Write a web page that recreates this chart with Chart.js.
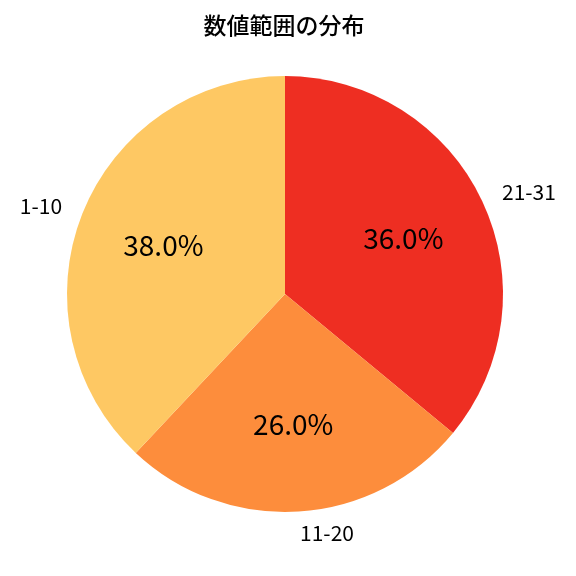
<!DOCTYPE html>
<html><head><meta charset="utf-8">
<script src="https://cdn.jsdelivr.net/npm/chart.js@4"></script>
<style>html,body{margin:0;padding:0;background:#fff}#w{width:576px;height:576px}</style>
</head><body><div id="w"><canvas id="c"></canvas></div>
<script>
const categories = ['21-31', '11-20', '1-10'];
const values = [36.0, 26.0, 38.0];
const colors = ['#EE2E22', '#FD8D3C', '#FEC863'];
const titleText = '数値範囲の分布';
const FONT = '"Noto Sans CJK JP", "Noto Sans", sans-serif';

const labelPlugin = {
  id: 'labels',
  afterDraw(chart) {
    const ctx = chart.ctx;
    ctx.save();
    ctx.fillStyle = '#000';
    ctx.textBaseline = 'middle';
    ctx.textAlign = 'center';
    ctx.font = '500 23px ' + FONT;
    ctx.fillText(titleText, 284, 25);
    const meta = chart.getDatasetMeta(0);
    meta.data.forEach((arc, i) => {
      const mid = (arc.startAngle + arc.endAngle) / 2;
      const r = arc.outerRadius;
      const lx = Math.cos(mid) * r * 1.1;
      ctx.font = '21px ' + FONT;
      ctx.textAlign = lx >= 0 ? 'left' : 'right';
      ctx.fillText(categories[i], arc.x + lx, arc.y + Math.sin(mid) * r * 1.1);
      ctx.textAlign = 'center';
      ctx.font = '28px ' + FONT;
      ctx.fillText(values[i].toFixed(1) + '%', arc.x + Math.cos(mid) * r * 0.6, arc.y + Math.sin(mid) * r * 0.6);
    });
    ctx.restore();
  }
};

new Chart(document.getElementById('c'), {
  type: 'pie',
  data: { labels: categories, datasets: [{ data: values, backgroundColor: colors, borderWidth: 0 }] },
  options: {
    responsive: true, maintainAspectRatio: false, animation: false,
    layout: { padding: { left: 67, right: 73, top: 76, bottom: 64 } },
    plugins: { legend: { display: false }, title: { display: false }, tooltip: { enabled: false } }
  },
  plugins: [labelPlugin]
});
</script></body></html>
